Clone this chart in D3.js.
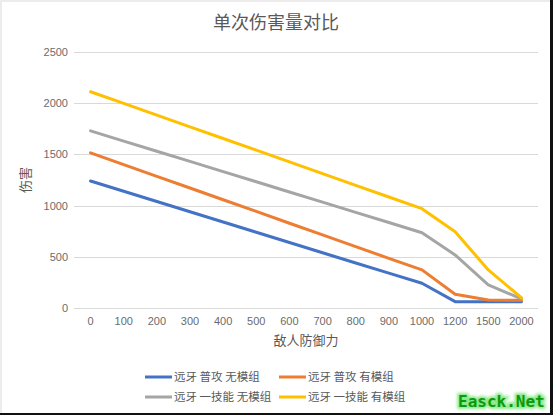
<!DOCTYPE html>
<html>
<head>
<meta charset="utf-8">
<script src="https://cdn.jsdelivr.net/npm/d3@7/dist/d3.min.js"></script>
<style>
  body { margin: 0; background: #fff; }
  svg { display: block; font-family: "Noto Sans CJK SC", "Noto Sans", sans-serif; }
  .tick text { fill: #6b6b6b; font-size: 11px; font-family: "Liberation Sans", "Noto Sans", sans-serif; }
</style>
</head>
<body>
<div id="chart"></div>
<script>
(function() {
    var width = 553,
        height = 415,
        margin = { top: 52, right: 15, bottom: 107, left: 74 };

    // data
    var defense = ['0', '100', '200', '300', '400', '500', '600', '700', '800', '900', '1000', '1200', '1500', '2000'];
    var normalNoMod  = [1240, 1140, 1040, 940, 840, 740, 640, 540, 440, 340, 242, 62, 62, 62];
    var normalMod    = [1515, 1400, 1286, 1172, 1057, 943, 828, 714, 599, 485, 372, 134, 78, 76];
    var skillNoMod   = [1730, 1630, 1531, 1432, 1332, 1233, 1133, 1034, 934, 835, 735, 518, 225, 90];
    var skillMod     = [2112, 1998, 1884, 1769, 1655, 1541, 1427, 1312, 1198, 1084, 970, 745, 372, 100];
    var seriesNames  = ['远牙 普攻 无模组', '远牙 普攻 有模组', '远牙 一技能 无模组', '远牙 一技能 有模组'];
    var seriesColors = ['#4472C4', '#ED7D31', '#A5A5A5', '#FFC000'];
    var yTicks = [0, 500, 1000, 1500, 2000, 2500];

    var series = [normalNoMod, normalMod, skillNoMod, skillMod].map(function(v, i) {
        return { name: seriesNames[i], color: seriesColors[i], values: v };
    });

    var svg = d3.select('#chart').append('svg')
        .attr('width', width)
        .attr('height', height);

    // frame
    svg.append('rect').attr('x', 0).attr('y', 0).attr('width', width).attr('height', height).attr('fill', '#ececec');
    svg.append('rect').attr('x', 2).attr('y', 2).attr('width', width - 4).attr('height', height - 4).attr('fill', '#fff');
    svg.append('rect').attr('x', 550).attr('y', 0).attr('width', 3).attr('height', height).attr('fill', '#111');
    svg.append('rect').attr('x', 0).attr('y', 413).attr('width', width).attr('height', 2).attr('fill', '#111');

    var x = d3.scaleBand()
        .domain(defense)
        .range([margin.left, width - margin.right]);

    var y = d3.scaleLinear()
        .domain([0, 2500])
        .range([height - margin.bottom, margin.top]);

    // gridlines
    svg.append('g')
        .selectAll('line')
        .data(yTicks)
        .enter().append('line')
        .attr('x1', margin.left)
        .attr('x2', width - margin.right)
        .attr('y1', function(d) { return Math.round(y(d)) + 0.5; })
        .attr('y2', function(d) { return Math.round(y(d)) + 0.5; })
        .attr('stroke', '#D9D9D9')
        .attr('stroke-width', 1);

    // y axis labels
    var yAxis = svg.append('g')
        .attr('transform', 'translate(' + (margin.left - 6) + ',0)')
        .call(d3.axisLeft(y).tickValues(yTicks).tickFormat(d3.format('d')).tickSize(0).tickPadding(0));
    yAxis.select('.domain').remove();

    // x axis labels
    var xAxis = svg.append('g')
        .attr('transform', 'translate(0,' + (height - margin.bottom) + ')')
        .call(d3.axisBottom(x).tickSize(0).tickPadding(9));
    xAxis.select('.domain').remove();

    // lines
    var line = d3.line()
        .x(function(d, i) { return x(defense[i]) + x.bandwidth() / 2; })
        .y(function(d) { return y(d); });

    svg.append('g')
        .selectAll('path')
        .data(series)
        .enter().append('path')
        .attr('d', function(d) { return line(d.values); })
        .attr('fill', 'none')
        .attr('stroke', function(d) { return d.color; })
        .attr('stroke-width', 3)
        .attr('stroke-linejoin', 'round')
        .attr('stroke-linecap', 'round');

    // title
    svg.append('text')
        .attr('x', 276)
        .attr('y', 29)
        .attr('text-anchor', 'middle')
        .attr('fill', '#595959')
        .attr('font-size', 18)
        .text('单次伤害量对比');

    // axis titles
    svg.append('text')
        .attr('transform', 'translate(30,' + ((margin.top + height - margin.bottom) / 2) + ') rotate(-90)')
        .attr('text-anchor', 'middle')
        .attr('fill', '#595959')
        .attr('font-size', 13)
        .text('伤害');

    svg.append('text')
        .attr('x', (margin.left + width - margin.right) / 2)
        .attr('y', 345)
        .attr('text-anchor', 'middle')
        .attr('fill', '#595959')
        .attr('font-size', 13)
        .text('敌人防御力');

    // legend
    var legendPos = [[145, 377], [279, 377], [145, 397], [279, 397]];
    var legend = svg.append('g')
        .selectAll('g')
        .data(series)
        .enter().append('g')
        .attr('transform', function(d, i) { return 'translate(' + legendPos[i][0] + ',' + legendPos[i][1] + ')'; });
    legend.append('line')
        .attr('x1', 0).attr('x2', 27)
        .attr('stroke', function(d) { return d.color; })
        .attr('stroke-width', 3);
    legend.append('text')
        .attr('x', 29)
        .attr('dy', '0.35em')
        .attr('fill', '#595959')
        .attr('font-size', 11.5)
        .text(function(d) { return d.name; });

    // watermark
    var defs = svg.append('defs');
    var glow = defs.append('filter').attr('id', 'glow');
    glow.append('feGaussianBlur').attr('stdDeviation', 1.5);
    var wm = svg.append('g').attr('font-family', '"DejaVu Sans Mono", monospace')
        .attr('font-weight', 'bold').attr('font-size', 16);
    wm.append('text')
        .attr('x', 458).attr('y', 407)
        .attr('fill', 'none').attr('stroke', '#8be88b').attr('stroke-width', 4)
        .attr('filter', 'url(#glow)')
        .text('Easck.Net');
    wm.append('text')
        .attr('x', 458).attr('y', 407)
        .attr('fill', '#0a9a0a')
        .text('Easck.Net');
})();
</script>
</body>
</html>
